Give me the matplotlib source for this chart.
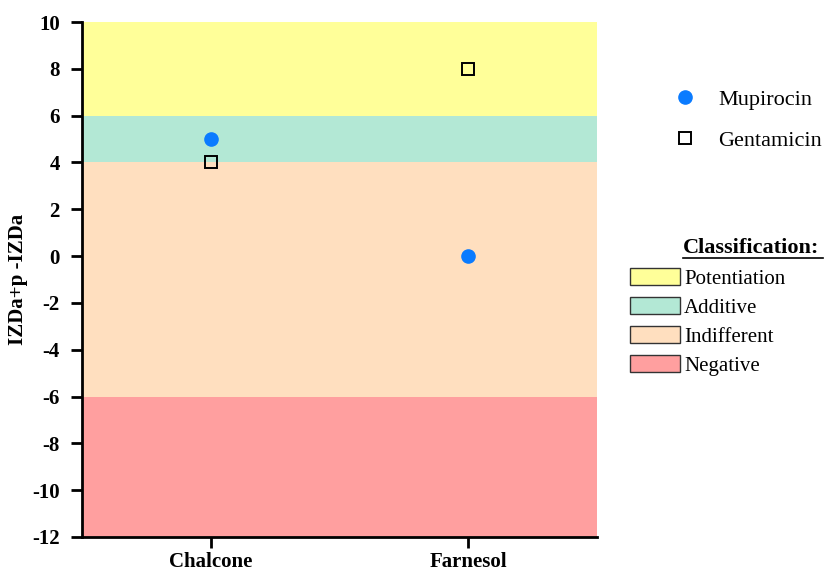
import matplotlib.pyplot as plt
from matplotlib.patches import Patch
from matplotlib.lines import Line2D

# datos
compounds = ["Chalcone", "Farnesol"]
mupirocin = [5, 0]
gentamicin = [4, 8]

# bandas de clasificacion
band_names = ["Potentiation", "Additive", "Indifferent", "Negative"]
band_low = [6, 4, -6, -12]
band_high = [10, 6, 4, -6]
band_colors = ["#FFFF99", "#B3E8D5", "#FFDFBF", "#FF9F9F"]

plt.rcParams['font.family'] = ['Liberation Serif', 'DejaVu Serif']
plt.rcParams['axes.unicode_minus'] = False

fig = plt.figure(figsize=(8.3, 5.72), dpi=100)
ax = fig.add_axes([0.0988, 0.0612, 0.6205, 0.9003])

x = list(range(len(compounds)))
for lo, hi, c in zip(band_low, band_high, band_colors):
    ax.axhspan(lo, hi, color=c, lw=0, zorder=0)

ax.plot(x, mupirocin, 'o', color="#0A7BFF", ms=9.5, zorder=3, label="Mupirocin")
ax.plot(x, gentamicin, 's', mfc='none', mec='black', mew=1.4, ms=9, zorder=3, label="Gentamicin")

ax.set_xlim(-0.5, 1.5)
ax.set_ylim(-12, 10)
ax.set_yticks(range(-12, 11, 2))
ax.set_xticks(x)
ax.set_xticklabels(compounds)
ax.set_ylabel("IZDa+p -IZDa", fontsize=15, fontweight='bold')
ax.yaxis.set_label_coords(-0.105, 0.5)

for s in ['top', 'right']:
    ax.spines[s].set_visible(False)
for s in ['left', 'bottom']:
    ax.spines[s].set_linewidth(2)
ax.tick_params(axis='both', width=2, length=8, labelsize=15)
ax.tick_params(axis='y', pad=8)
ax.tick_params(axis='x', pad=3)
for lab in ax.get_xticklabels() + ax.get_yticklabels():
    lab.set_fontweight('bold')

# leyenda de series
fig.legend(loc='upper left', bbox_to_anchor=(0.812, 0.844), frameon=False,
           fontsize=16, handletextpad=1.0, labelspacing=0.93, handlelength=1.0,
           borderpad=0, borderaxespad=0)

# leyenda de clasificacion
fig.text(0.823, 0.557, "Classification:", fontsize=16, fontweight='bold', va='baseline')
fig.add_artist(Line2D([0.823, 0.992], [0.549, 0.549], color='black', lw=1.2))
handles = [Patch(facecolor=c, edgecolor='#333333', lw=1) for c in band_colors]
fig.legend(handles, band_names, loc='upper left', bbox_to_anchor=(0.759, 0.531),
           frameon=False, fontsize=15, handlelength=2.4, handleheight=0.85,
           handletextpad=0.2, labelspacing=0.41, borderpad=0, borderaxespad=0)

fig.savefig("out.png", dpi=100)
